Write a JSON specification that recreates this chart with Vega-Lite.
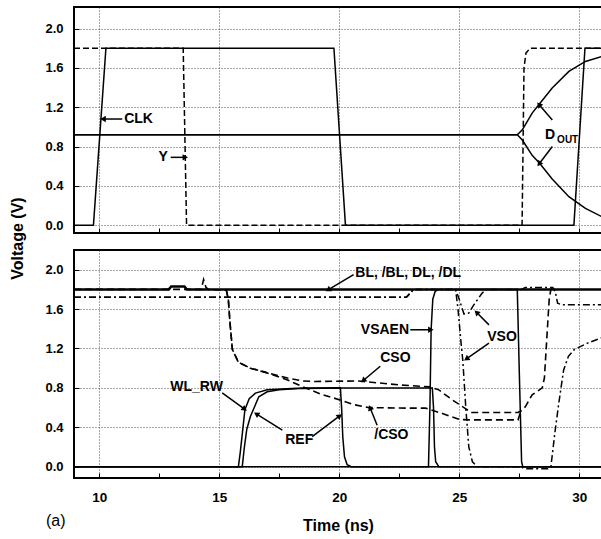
{
  "$schema": "https://vega.github.io/schema/vega-lite/v6.json",
  "padding": {"left": 8, "top": 6, "right": 0, "bottom": 0},
  "background": "white",
  "title": {"text": "(a)", "orient": "bottom", "anchor": "start", "frame": "group", "font": "Liberation Sans", "fontSize": 16, "fontWeight": "normal", "color": "black", "dx": -28, "dy": -26},
  "config": {
    "font": "Liberation Sans",
    "view": {"stroke": "black", "strokeWidth": 2},
    "axis": {"labelFont": "Liberation Sans", "labelFontWeight": "bold", "labelFontSize": 13, "labelColor": "black", "titleFont": "Liberation Sans", "titleFontWeight": "bold", "titleFontSize": 16, "titleColor": "black", "tickColor": "black", "tickWidth": 1, "domain": false, "gridColor": "#222", "gridDash": [1, 2], "gridWidth": 0.8},
    "text": {"font": "Liberation Sans", "fontWeight": "bold", "fontSize": 14, "align": "left", "baseline": "middle", "color": "black"}
  },
  "datasets": {
    "top": [
      {"s": "CLK", "t": 8.95, "v": 0}, {"s": "CLK", "t": 9.76, "v": 0}, {"s": "CLK", "t": 10.28, "v": 1.8}, {"s": "CLK", "t": 19.78, "v": 1.8}, {"s": "CLK", "t": 20.26, "v": 0}, {"s": "CLK", "t": 29.78, "v": 0}, {"s": "CLK", "t": 30.24, "v": 1.8}, {"s": "CLK", "t": 30.95, "v": 1.8},
      {"s": "Y", "t": 8.95, "v": 1.8}, {"s": "Y", "t": 13.5, "v": 1.8}, {"s": "Y", "t": 13.64, "v": 0}, {"s": "Y", "t": 27.62, "v": 0}, {"s": "Y", "t": 27.7, "v": 1.6}, {"s": "Y", "t": 27.78, "v": 1.75}, {"s": "Y", "t": 27.95, "v": 1.8}, {"s": "Y", "t": 30.95, "v": 1.8},
      {"s": "DOUT", "t": 8.95, "v": 0.92}, {"s": "DOUT", "t": 27.42, "v": 0.92}, {"s": "DOUT", "t": 27.63, "v": 0.97}, {"s": "DOUT", "t": 28.04, "v": 1.14}, {"s": "DOUT", "t": 28.35, "v": 1.235}, {"s": "DOUT", "t": 28.875, "v": 1.395}, {"s": "DOUT", "t": 29.57, "v": 1.565}, {"s": "DOUT", "t": 30.26, "v": 1.666}, {"s": "DOUT", "t": 30.95, "v": 1.717},
      {"s": "/DOUT", "t": 8.95, "v": 0.92}, {"s": "/DOUT", "t": 27.42, "v": 0.92}, {"s": "/DOUT", "t": 27.63, "v": 0.866}, {"s": "/DOUT", "t": 28.04, "v": 0.71}, {"s": "/DOUT", "t": 28.35, "v": 0.63}, {"s": "/DOUT", "t": 28.875, "v": 0.47}, {"s": "/DOUT", "t": 29.57, "v": 0.29}, {"s": "/DOUT", "t": 30.26, "v": 0.17}, {"s": "/DOUT", "t": 30.95, "v": 0.085}
    ],
    "topText": [
      {"t": 11.04, "v": 1.08, "label": "CLK"},
      {"t": 12.47, "v": 0.69, "label": "Y"},
      {"t": 28.58, "v": 0.92, "label": "D"}
    ],
    "topSub": [
      {"t": 29.08, "v": 0.87, "label": "OUT"}
    ],
    "topArrows": [
      {"t": 10.96, "v": 1.08, "t2": 10.2, "v2": 1.08},
      {"t": 12.98, "v": 0.69, "t2": 13.55, "v2": 0.69},
      {"t": 28.88, "v": 1.07, "t2": 28.35, "v2": 1.22},
      {"t": 28.88, "v": 0.8, "t2": 28.35, "v2": 0.63}
    ],
    "bl": [
      {"t": 8.95, "v": 1.8}, {"t": 12.9, "v": 1.8}, {"t": 13.0, "v": 1.83}, {"t": 13.55, "v": 1.83}, {"t": 13.65, "v": 1.8}, {"t": 30.95, "v": 1.8}
    ],
    "bottom": [
      {"s": "VSO", "t": 8.95, "v": 1.72}, {"s": "VSO", "t": 22.8, "v": 1.72}, {"s": "VSO", "t": 22.95, "v": 1.76}, {"s": "VSO", "t": 23.1, "v": 1.8}, {"s": "VSO", "t": 24.85, "v": 1.8}, {"s": "VSO", "t": 25.0, "v": 1.7}, {"s": "VSO", "t": 25.2, "v": 1.55}, {"s": "VSO", "t": 25.4, "v": 1.56}, {"s": "VSO", "t": 25.6, "v": 1.64}, {"s": "VSO", "t": 25.95, "v": 1.76}, {"s": "VSO", "t": 26.1, "v": 1.8}, {"s": "VSO", "t": 27.6, "v": 1.8}, {"s": "VSO", "t": 27.75, "v": 1.82}, {"s": "VSO", "t": 28.9, "v": 1.82}, {"s": "VSO", "t": 29.0, "v": 1.78}, {"s": "VSO", "t": 29.1, "v": 1.66}, {"s": "VSO", "t": 29.25, "v": 1.645}, {"s": "VSO", "t": 30.95, "v": 1.645},
      {"s": "/VSO", "t": 8.95, "v": 1.72}, {"s": "/VSO", "t": 22.8, "v": 1.72}, {"s": "/VSO", "t": 23.1, "v": 1.8}, {"s": "/VSO", "t": 24.85, "v": 1.8}, {"s": "/VSO", "t": 24.95, "v": 1.6}, {"s": "/VSO", "t": 25.08, "v": 1.25}, {"s": "/VSO", "t": 25.15, "v": 1.08}, {"s": "/VSO", "t": 25.28, "v": 0.58}, {"s": "/VSO", "t": 25.4, "v": 0.2}, {"s": "/VSO", "t": 25.55, "v": 0.05}, {"s": "/VSO", "t": 25.75, "v": 0}, {"s": "/VSO", "t": 27.6, "v": 0}, {"s": "/VSO", "t": 27.7, "v": -0.02}, {"s": "/VSO", "t": 28.7, "v": -0.02}, {"s": "/VSO", "t": 28.82, "v": 0}, {"s": "/VSO", "t": 29.0, "v": 0.37}, {"s": "/VSO", "t": 29.15, "v": 0.645}, {"s": "/VSO", "t": 29.35, "v": 0.98}, {"s": "/VSO", "t": 29.55, "v": 1.12}, {"s": "/VSO", "t": 29.8, "v": 1.19}, {"s": "/VSO", "t": 30.35, "v": 1.255}, {"s": "/VSO", "t": 30.95, "v": 1.31},
      {"s": "CSO", "t": 8.95, "v": 1.8}, {"s": "CSO", "t": 14.25, "v": 1.8}, {"s": "CSO", "t": 14.35, "v": 1.9}, {"s": "CSO", "t": 14.45, "v": 1.82}, {"s": "CSO", "t": 14.55, "v": 1.8}, {"s": "CSO", "t": 15.3, "v": 1.79}, {"s": "CSO", "t": 15.38, "v": 1.7}, {"s": "CSO", "t": 15.45, "v": 1.46}, {"s": "CSO", "t": 15.55, "v": 1.19}, {"s": "CSO", "t": 15.8, "v": 1.06}, {"s": "CSO", "t": 16.3, "v": 1.0}, {"s": "CSO", "t": 16.9, "v": 0.96}, {"s": "CSO", "t": 17.85, "v": 0.9}, {"s": "CSO", "t": 18.5, "v": 0.87}, {"s": "CSO", "t": 19.0, "v": 0.865}, {"s": "CSO", "t": 20.8, "v": 0.87}, {"s": "CSO", "t": 22.5, "v": 0.83}, {"s": "CSO", "t": 23.8, "v": 0.81}, {"s": "CSO", "t": 24.15, "v": 0.78}, {"s": "CSO", "t": 24.7, "v": 0.68}, {"s": "CSO", "t": 25.26, "v": 0.59}, {"s": "CSO", "t": 25.5, "v": 0.55}, {"s": "CSO", "t": 27.45, "v": 0.55}, {"s": "CSO", "t": 27.6, "v": 0.57}, {"s": "CSO", "t": 27.76, "v": 0.61}, {"s": "CSO", "t": 28.04, "v": 0.73}, {"s": "CSO", "t": 28.46, "v": 0.8}, {"s": "CSO", "t": 28.55, "v": 0.9}, {"s": "CSO", "t": 28.65, "v": 1.3}, {"s": "CSO", "t": 28.75, "v": 1.7}, {"s": "CSO", "t": 28.82, "v": 1.8}, {"s": "CSO", "t": 28.9, "v": 1.82},
      {"s": "/CSO", "t": 15.3, "v": 1.79}, {"s": "/CSO", "t": 15.38, "v": 1.7}, {"s": "/CSO", "t": 15.45, "v": 1.46}, {"s": "/CSO", "t": 15.55, "v": 1.19}, {"s": "/CSO", "t": 15.8, "v": 1.06}, {"s": "/CSO", "t": 16.3, "v": 1.0}, {"s": "/CSO", "t": 16.9, "v": 0.96}, {"s": "/CSO", "t": 17.85, "v": 0.88}, {"s": "/CSO", "t": 18.5, "v": 0.81}, {"s": "/CSO", "t": 19.2, "v": 0.74}, {"s": "/CSO", "t": 20.0, "v": 0.68}, {"s": "/CSO", "t": 20.6, "v": 0.63}, {"s": "/CSO", "t": 21.24, "v": 0.6}, {"s": "/CSO", "t": 22.5, "v": 0.595}, {"s": "/CSO", "t": 23.6, "v": 0.594}, {"s": "/CSO", "t": 24.3, "v": 0.54}, {"s": "/CSO", "t": 25.0, "v": 0.48}, {"s": "/CSO", "t": 25.4, "v": 0.475}, {"s": "/CSO", "t": 27.45, "v": 0.475}, {"s": "/CSO", "t": 27.55, "v": 0.55},
      {"s": "WL_RW", "t": 8.95, "v": 0}, {"s": "WL_RW", "t": 15.8, "v": 0}, {"s": "WL_RW", "t": 15.88, "v": 0.15}, {"s": "WL_RW", "t": 15.97, "v": 0.35}, {"s": "WL_RW", "t": 16.07, "v": 0.577}, {"s": "WL_RW", "t": 16.25, "v": 0.69}, {"s": "WL_RW", "t": 16.51, "v": 0.747}, {"s": "WL_RW", "t": 17.0, "v": 0.78}, {"s": "WL_RW", "t": 17.8, "v": 0.79}, {"s": "WL_RW", "t": 18.5, "v": 0.8}, {"s": "WL_RW", "t": 23.88, "v": 0.8}, {"s": "WL_RW", "t": 23.93, "v": 0.6}, {"s": "WL_RW", "t": 23.97, "v": 0.2}, {"s": "WL_RW", "t": 24.02, "v": 0.05}, {"s": "WL_RW", "t": 24.15, "v": 0}, {"s": "WL_RW", "t": 30.95, "v": 0},
      {"s": "REF", "t": 8.95, "v": 0}, {"s": "REF", "t": 15.96, "v": 0}, {"s": "REF", "t": 16.05, "v": 0.2}, {"s": "REF", "t": 16.15, "v": 0.38}, {"s": "REF", "t": 16.3, "v": 0.51}, {"s": "REF", "t": 16.65, "v": 0.71}, {"s": "REF", "t": 17.0, "v": 0.76}, {"s": "REF", "t": 17.5, "v": 0.78}, {"s": "REF", "t": 18.5, "v": 0.795}, {"s": "REF", "t": 20.05, "v": 0.8}, {"s": "REF", "t": 20.1, "v": 0.6}, {"s": "REF", "t": 20.15, "v": 0.3}, {"s": "REF", "t": 20.22, "v": 0.1}, {"s": "REF", "t": 20.33, "v": 0.02}, {"s": "REF", "t": 20.5, "v": 0}, {"s": "REF", "t": 30.95, "v": 0},
      {"s": "VSAEN", "t": 8.95, "v": 0}, {"s": "VSAEN", "t": 23.72, "v": 0}, {"s": "VSAEN", "t": 23.78, "v": 0.6}, {"s": "VSAEN", "t": 23.83, "v": 1.39}, {"s": "VSAEN", "t": 23.9, "v": 1.7}, {"s": "VSAEN", "t": 24.0, "v": 1.78}, {"s": "VSAEN", "t": 24.15, "v": 1.8}, {"s": "VSAEN", "t": 27.42, "v": 1.8}, {"s": "VSAEN", "t": 27.5, "v": 1.0}, {"s": "VSAEN", "t": 27.6, "v": 0.05}, {"s": "VSAEN", "t": 27.65, "v": 0}, {"s": "VSAEN", "t": 30.95, "v": 0}
    ],
    "bottomText": [
      {"t": 20.67, "v": 1.97, "label": "BL, /BL, DL, /DL"},
      {"t": 20.9, "v": 1.39, "label": "VSAEN"},
      {"t": 21.71, "v": 1.1, "label": "CSO"},
      {"t": 21.46, "v": 0.32, "label": "/CSO"},
      {"t": 17.75, "v": 0.27, "label": "REF"},
      {"t": 12.96, "v": 0.81, "label": "WL_RW"},
      {"t": 26.17, "v": 1.32, "label": "VSO"}
    ],
    "bottomArrows": [
      {"t": 20.6, "v": 1.95, "t2": 19.57, "v2": 1.8},
      {"t": 22.96, "v": 1.39, "t2": 23.78, "v2": 1.39},
      {"t": 21.71, "v": 1.02, "t2": 21.03, "v2": 0.88},
      {"t": 21.58, "v": 0.42, "t2": 21.3, "v2": 0.59},
      {"t": 17.63, "v": 0.37, "t2": 16.58, "v2": 0.53},
      {"t": 18.875, "v": 0.305, "t2": 19.99, "v2": 0.51},
      {"t": 15.125, "v": 0.75, "t2": 16.03, "v2": 0.59},
      {"t": 26.24, "v": 1.44, "t2": 25.75, "v2": 1.56},
      {"t": 26.24, "v": 1.255, "t2": 25.33, "v2": 1.1}
    ]
  },
  "vconcat": [
    {
      "width": 528,
      "height": 226,
      "layer": [
        {
          "data": {"name": "top"},
          "transform": [{"filter": {"field": "s", "oneOf": ["CLK", "DOUT", "/DOUT"]}}],
          "mark": {"type": "line", "strokeWidth": 1.5, "color": "black", "clip": true},
          "encoding": {
            "x": {"field": "t", "type": "quantitative", "scale": {"domain": [8.95, 30.95], "nice": false, "zero": false},
              "axis": {"title": null, "labels": false, "values": [10, 12.5, 15, 17.5, 20, 22.5, 25, 27.5, 30], "tickSize": -5, "grid": true, "gridOpacity": {"condition": {"test": "datum.value % 5 === 0", "value": 1}, "value": 0}}},
            "y": {"field": "v", "type": "quantitative", "scale": {"domain": [-0.08, 2.22], "nice": false, "zero": false},
              "axis": {"title": "Voltage (V)", "values": [0, 0.1, 0.2, 0.3, 0.4, 0.5, 0.6, 0.7, 0.8, 0.9, 1.0, 1.1, 1.2, 1.3, 1.4, 1.5, 1.6, 1.7, 1.8, 1.9, 2.0, 2.1, 2.2], "labelExpr": "round(datum.value*10) % 4 === 0 ? format(datum.value, '.1f') : ''", "tickSize": -5, "labelPadding": 16, "grid": true, "gridOpacity": {"condition": {"test": "round(datum.value*10) % 2 === 0", "value": 1}, "value": 0}, "titleX": -57, "titleY": 231, "titleAngle": -90, "titleAlign": "center", "titleBaseline": "middle"}},
            "detail": {"field": "s"}
          }
        },
        {
          "data": {"name": "top"},
          "transform": [{"filter": {"field": "s", "oneOf": ["Y"]}}],
          "mark": {"type": "line", "strokeWidth": 1.5, "color": "black", "strokeDash": [6, 3], "clip": true},
          "encoding": {"x": {"field": "t", "type": "quantitative"}, "y": {"field": "v", "type": "quantitative"}, "detail": {"field": "s"}}
        },
        {
          "data": {"name": "topText"},
          "mark": {"type": "text"},
          "encoding": {"x": {"field": "t", "type": "quantitative"}, "y": {"field": "v", "type": "quantitative"}, "text": {"field": "label"}}
        },
        {
          "data": {"name": "topSub"},
          "mark": {"type": "text", "fontSize": 10},
          "encoding": {"x": {"field": "t", "type": "quantitative"}, "y": {"field": "v", "type": "quantitative"}, "text": {"field": "label"}}
        },
        {
          "data": {"name": "topArrows"},
          "mark": {"type": "rule", "color": "black", "strokeWidth": 1.5},
          "encoding": {"x": {"field": "t", "type": "quantitative"}, "y": {"field": "v", "type": "quantitative"}, "x2": {"field": "t2"}, "y2": {"field": "v2"}}
        },
        {
          "data": {"name": "topArrows"},
          "transform": [{"calculate": "atan2((datum.t2-datum.t)*24, (datum.v2-datum.v)*98.3)*180/PI", "as": "ang"}],
          "mark": {"type": "point", "shape": "triangle", "filled": true, "color": "black", "opacity": 1, "size": 40},
          "encoding": {"x": {"field": "t2", "type": "quantitative"}, "y": {"field": "v2", "type": "quantitative"}, "angle": {"field": "ang", "type": "quantitative", "scale": null}}
        }
      ]
    },
    {
      "width": 528,
      "height": 228,
      "layer": [
        {
          "data": {"name": "bottom"},
          "transform": [{"filter": {"field": "s", "oneOf": ["WL_RW", "REF", "VSAEN"]}}],
          "mark": {"type": "line", "strokeWidth": 1.5, "color": "black", "clip": true},
          "encoding": {
            "x": {"field": "t", "type": "quantitative", "scale": {"domain": [8.95, 30.95], "nice": false, "zero": false},
              "axis": {"title": "Time (ns)", "values": [10, 12.5, 15, 17.5, 20, 22.5, 25, 27.5, 30], "labelExpr": "datum.value % 5 === 0 ? datum.label : ''", "labelFontSize": 13.5, "tickSize": -5, "labelPadding": 17, "titlePadding": 14, "grid": true, "gridOpacity": {"condition": {"test": "datum.value % 5 === 0", "value": 1}, "value": 0}}},
            "y": {"field": "v", "type": "quantitative", "scale": {"domain": [-0.115, 2.2], "nice": false, "zero": false},
              "axis": {"title": null, "values": [0, 0.1, 0.2, 0.3, 0.4, 0.5, 0.6, 0.7, 0.8, 0.9, 1.0, 1.1, 1.2, 1.3, 1.4, 1.5, 1.6, 1.7, 1.8, 1.9, 2.0, 2.1], "labelExpr": "round(datum.value*10) % 4 === 0 ? format(datum.value, '.1f') : ''", "tickSize": -5, "labelPadding": 16, "grid": true, "gridOpacity": {"condition": {"test": "round(datum.value*10) % 2 === 0", "value": 1}, "value": 0}}},
            "detail": {"field": "s"}
          }
        },
        {
          "data": {"name": "bottom"},
          "transform": [{"filter": {"field": "s", "oneOf": ["CSO", "/CSO"]}}],
          "mark": {"type": "line", "strokeWidth": 1.6, "color": "black", "strokeDash": [7, 4], "clip": true},
          "encoding": {"x": {"field": "t", "type": "quantitative"}, "y": {"field": "v", "type": "quantitative"}, "detail": {"field": "s"}}
        },
        {
          "data": {"name": "bottom"},
          "transform": [{"filter": {"field": "s", "oneOf": ["VSO", "/VSO"]}}],
          "mark": {"type": "line", "strokeWidth": 1.5, "color": "black", "strokeDash": [7, 3, 2, 3], "clip": true},
          "encoding": {"x": {"field": "t", "type": "quantitative"}, "y": {"field": "v", "type": "quantitative"}, "detail": {"field": "s"}}
        },
        {
          "data": {"name": "bl"},
          "mark": {"type": "line", "strokeWidth": 2.5, "color": "black", "clip": true},
          "encoding": {"x": {"field": "t", "type": "quantitative"}, "y": {"field": "v", "type": "quantitative"}}
        },
        {
          "data": {"name": "bottomText"},
          "mark": {"type": "text"},
          "encoding": {"x": {"field": "t", "type": "quantitative"}, "y": {"field": "v", "type": "quantitative"}, "text": {"field": "label"}}
        },
        {
          "data": {"name": "bottomArrows"},
          "mark": {"type": "rule", "color": "black", "strokeWidth": 1.5},
          "encoding": {"x": {"field": "t", "type": "quantitative"}, "y": {"field": "v", "type": "quantitative"}, "x2": {"field": "t2"}, "y2": {"field": "v2"}}
        },
        {
          "data": {"name": "bottomArrows"},
          "transform": [{"calculate": "atan2((datum.t2-datum.t)*24, (datum.v2-datum.v)*98.5)*180/PI", "as": "ang"}],
          "mark": {"type": "point", "shape": "triangle", "filled": true, "color": "black", "opacity": 1, "size": 40},
          "encoding": {"x": {"field": "t2", "type": "quantitative"}, "y": {"field": "v2", "type": "quantitative"}, "angle": {"field": "ang", "type": "quantitative", "scale": null}}
        }
      ]
    }
  ],
  "spacing": 17,
  "bounds": "flush"
}
